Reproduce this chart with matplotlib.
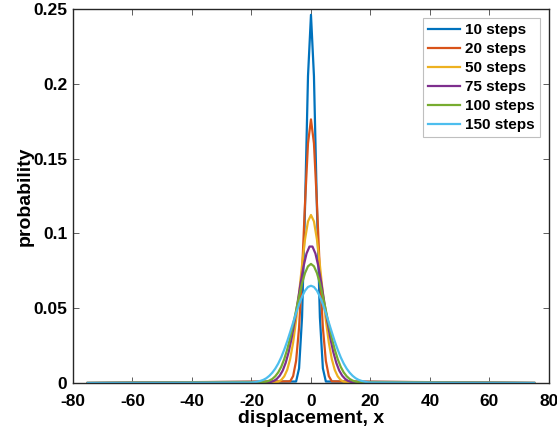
import numpy as np
import matplotlib
matplotlib.use("Agg")
import matplotlib.pyplot as plt

plt.rcParams['font.family'] = ['Liberation Sans', 'DejaVu Sans']
plt.rcParams['font.weight'] = 'bold'
plt.rcParams['axes.unicode_minus'] = False

# probability of each final displacement, only where it is non-negligible
p10 = [0.0010, 0.0098, 0.0439, 0.1172, 0.2051, 0.2461, 0.2051, 0.1172, 0.0439, 0.0098, 0.0010]
p20 = [0.0011, 0.0046, 0.0148, 0.0370, 0.0739, 0.1201, 0.1602, 0.1762,
       0.1602, 0.1201, 0.0739, 0.0370, 0.0148, 0.0046, 0.0011]
p50 = [0.0003, 0.0008, 0.0020, 0.0044, 0.0087, 0.0160, 0.0270, 0.0419, 0.0598, 0.0788, 0.0960, 0.1080,
       0.1123,
       0.1080, 0.0960, 0.0788, 0.0598, 0.0419, 0.0270, 0.0160, 0.0087, 0.0044, 0.0020, 0.0008, 0.0003]
p75 = [0.0003, 0.0007, 0.0014, 0.0027, 0.0049, 0.0083, 0.0135, 0.0207, 0.0300, 0.0413, 0.0538, 0.0665,
       0.0779, 0.0865, 0.0912,
       0.0912, 0.0865, 0.0779, 0.0665, 0.0538, 0.0413, 0.0300, 0.0207, 0.0135, 0.0083, 0.0049, 0.0027,
       0.0014, 0.0007, 0.0003]
p100 = [0.0005, 0.0009, 0.0016, 0.0027, 0.0045, 0.0071, 0.0108, 0.0159, 0.0223, 0.0301, 0.0390, 0.0485,
        0.0580, 0.0666, 0.0735, 0.0780,
        0.0796,
        0.0780, 0.0735, 0.0666, 0.0580, 0.0485, 0.0390, 0.0301, 0.0223, 0.0159, 0.0108, 0.0071, 0.0045,
        0.0027, 0.0016, 0.0009, 0.0005]
p150 = [0.0003, 0.0005, 0.0009, 0.0014, 0.0021, 0.0032, 0.0048, 0.0069, 0.0096, 0.0130, 0.0172, 0.0222,
        0.0278, 0.0340, 0.0404, 0.0467, 0.0526, 0.0577, 0.0617, 0.0642,
        0.0650,
        0.0642, 0.0617, 0.0577, 0.0526, 0.0467, 0.0404, 0.0340, 0.0278, 0.0222, 0.0172, 0.0130, 0.0096,
        0.0069, 0.0048, 0.0032, 0.0021, 0.0014, 0.0009, 0.0005, 0.0003]

probs = [p10, p20, p50, p75, p100, p150]
labels = ['10 steps', '20 steps', '50 steps', '75 steps', '100 steps', '150 steps']
colors = ['#0072BD', '#D95319', '#EDB120', '#7E2F8E', '#77AC30', '#4DBEEE']
xmax = 75


def full_curve(p):
    # displacements are centred on zero; pad with zero probability out to +-xmax
    half = (len(p) - 1) / 2
    x = np.arange(len(p)) - half
    x = np.concatenate([[-xmax], x, [xmax]])
    y = np.concatenate([[0.0], p, [0.0]])
    return x, y


fig = plt.figure(figsize=(5.57, 4.38), dpi=100)
ax = fig.add_axes([0.131, 0.1256, 0.8546, 0.8539])

for p, lab, c in zip(probs, labels, colors):
    x, y = full_curve(p)
    ax.plot(x, y, color=c, lw=1.6, label=lab)

ax.set_xlim(-80, 80)
ax.set_ylim(0, 0.25)
ax.set_xticks(np.arange(-80, 81, 20))
ax.set_yticks([0, 0.05, 0.1, 0.15, 0.2, 0.25])
ax.set_yticklabels(['0', '0.05', '0.1', '0.15', '0.2', '0.25'])
ax.tick_params(direction='in', top=True, right=True, length=4, width=0.6,
               color='#444444', labelsize=12.5)
ax.tick_params(axis='x', pad=8)
ax.tick_params(axis='y', pad=4)
for s in ax.spines.values():
    s.set_linewidth(1.0)
    s.set_color('#262626')

ax.set_xlabel('displacement, x', fontsize=14, fontweight='bold', labelpad=1)
ax.set_ylabel('probability', fontsize=14, fontweight='bold', labelpad=0)

leg = ax.legend(loc='upper right', fontsize=11, frameon=True, fancybox=False,
                handlelength=2.1, handletextpad=0.3, labelspacing=0.32,
                borderpad=0.35, borderaxespad=0.6)
leg.get_frame().set_edgecolor('#b0b0b0')
leg.get_frame().set_linewidth(0.8)

fig.savefig('out.png', dpi=100)
